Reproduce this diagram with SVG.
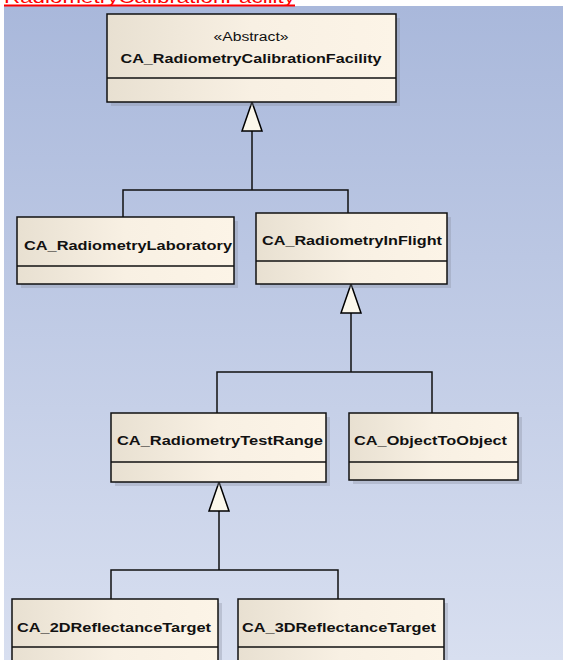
<svg xmlns="http://www.w3.org/2000/svg" width="563" height="660" viewBox="0 0 563 660">
<defs>
<linearGradient id="bg" x1="0" y1="0" x2="0" y2="1">
<stop offset="0" stop-color="#a9b8db"/>
<stop offset="1" stop-color="#d8dff0"/>
</linearGradient>
<linearGradient id="boxfill" x1="0" y1="0" x2="1" y2="0">
<stop offset="0" stop-color="#e8e0d1"/>
<stop offset="0.5" stop-color="#f8f0e3"/>
<stop offset="1" stop-color="#fcf4e7"/>
</linearGradient>
<marker id="gen" viewBox="0 0 32 24" refX="31" refY="12" markerWidth="32" markerHeight="24" markerUnits="userSpaceOnUse" orient="auto-start-reverse">
<path d="M31,12 L2,2 L2,22 Z" fill="#fcf8ec" stroke="#000" stroke-width="1.5" stroke-linejoin="miter"/>
</marker>
</defs>
<style>
.box{fill:url(#boxfill);stroke:#111;stroke-width:1.5}
.shadow{fill:#8a8fa0;opacity:0.35}
.div{stroke:#111;stroke-width:1.5}
.name{font-family:"Liberation Sans",Arial,sans-serif;font-weight:bold;font-size:13.5px;fill:#111}
.stereo{font-family:"Liberation Sans",Arial,sans-serif;font-size:12px;fill:#111}
.conn{fill:none;stroke:#111;stroke-width:1.5}
</style>
<rect x="0" y="0" width="563" height="660" fill="#ffffff"/>
<rect x="4" y="6" width="559" height="654" fill="url(#bg)"/>
<text x="4" y="3" font-family="Liberation Sans,Arial,sans-serif" font-size="17" fill="#ff0000" textLength="291" lengthAdjust="spacingAndGlyphs">RadiometryCalibrationFacility</text>
<rect x="4" y="4.5" width="291" height="2" fill="#ff0000"/>

<g id="connectors">
<path class="conn" d="M252,132 V190 M123,217 V190 H348 V213" />
<path class="conn" d="M252,102 V132" marker-start="url(#gen)"/>
<path class="conn" d="M351,313 V372 M217,413 V372 H432 V413"/>
<path class="conn" d="M351,284 V313" marker-start="url(#gen)"/>
<path class="conn" d="M219,511 V570 M111,599 V570 H338 V599"/>
<path class="conn" d="M219,482 V511" marker-start="url(#gen)"/>
</g>

<g id="CA_RadiometryCalibrationFacility">
<rect class="shadow" x="111" y="18" width="289" height="88"/>
<rect class="box" x="107" y="14" width="289" height="88"/>
<line class="div" x1="107" y1="78" x2="396" y2="78"/>
<text class="stereo" x="251" y="41" text-anchor="middle" textLength="75" lengthAdjust="spacingAndGlyphs">«Abstract»</text>
<text class="name" x="251" y="63" text-anchor="middle" textLength="261" lengthAdjust="spacingAndGlyphs">CA_RadiometryCalibrationFacility</text>
</g>

<g id="CA_RadiometryLaboratory">
<rect class="shadow" x="21" y="221" width="217" height="67"/>
<rect class="box" x="17" y="217" width="217" height="67"/>
<line class="div" x1="17" y1="266" x2="234" y2="266"/>
<text class="name" x="24" y="250" textLength="208" lengthAdjust="spacingAndGlyphs">CA_RadiometryLaboratory</text>
</g>

<g id="CA_RadiometryInFlight">
<rect class="shadow" x="260" y="217" width="191" height="71"/>
<rect class="box" x="256" y="213" width="191" height="71"/>
<line class="div" x1="256" y1="261" x2="447" y2="261"/>
<text class="name" x="262" y="245" textLength="180" lengthAdjust="spacingAndGlyphs">CA_RadiometryInFlight</text>
</g>

<g id="CA_RadiometryTestRange">
<rect class="shadow" x="115" y="417" width="215" height="69"/>
<rect class="box" x="111" y="413" width="215" height="69"/>
<line class="div" x1="111" y1="462" x2="326" y2="462"/>
<text class="name" x="117" y="445" textLength="206" lengthAdjust="spacingAndGlyphs">CA_RadiometryTestRange</text>
</g>

<g id="CA_ObjectToObject">
<rect class="shadow" x="353" y="417" width="169" height="67"/>
<rect class="box" x="349" y="413" width="169" height="67"/>
<line class="div" x1="349" y1="462" x2="518" y2="462"/>
<text class="name" x="354" y="445" textLength="153" lengthAdjust="spacingAndGlyphs">CA_ObjectToObject</text>
</g>

<g id="CA_2DReflectanceTarget">
<rect class="shadow" x="16" y="603" width="206" height="70"/>
<rect class="box" x="12" y="599" width="206" height="70"/>
<line class="div" x1="12" y1="647" x2="218" y2="647"/>
<text class="name" x="17" y="632" textLength="194" lengthAdjust="spacingAndGlyphs">CA_2DReflectanceTarget</text>
</g>

<g id="CA_3DReflectanceTarget">
<rect class="shadow" x="242" y="603" width="206" height="70"/>
<rect class="box" x="238" y="599" width="206" height="70"/>
<line class="div" x1="238" y1="647" x2="444" y2="647"/>
<text class="name" x="242" y="632" textLength="194" lengthAdjust="spacingAndGlyphs">CA_3DReflectanceTarget</text>
</g>
</svg>
